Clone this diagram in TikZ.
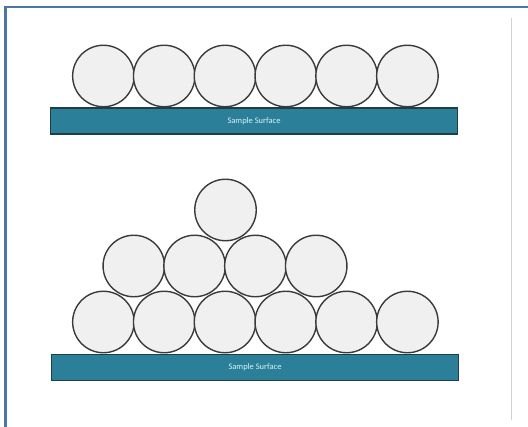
\documentclass[tikz,border=0pt]{standalone}
\usepackage{fontspec}
\setmainfont{Carlito}
\definecolor{frameblue}{HTML}{4A76A8}
\definecolor{teal}{HTML}{2B7F98}
\definecolor{tealdark}{HTML}{1E3E48}
\definecolor{ballfill}{HTML}{F0F0F0}
\definecolor{ballline}{HTML}{3A3A3A}
\definecolor{labelc}{HTML}{D8F4F8}
\tikzset{
  ball/.style={circle, draw=ballline, fill=ballfill, line width=1.4pt, minimum size=61.5pt, inner sep=0pt},
  surface/.style={draw=tealdark, fill=teal, line width=1.2pt, minimum width=407pt, minimum height=26pt, inner sep=0pt, font=\fontsize{8.5}{10}\selectfont, text=labelc},
}
\begin{document}
\begin{tikzpicture}[x=1pt,y=-1pt]
\useasboundingbox (0,0) rectangle (528,427);
\fill[white] (0,0) rectangle (528,427);
% frame
\draw[frameblue, line width=2.5pt] (5.5,427) -- (5.5,7) -- (528,7);
\draw[black!18, line width=0.8pt] (511,18) -- (511,420);
% top panel
\node[surface] (s1) at (254,121) {Sample Surface};
\foreach \i in {0,...,5} {
  \node[ball] (t\i) at ({103.4+60.8*\i},76) {};
}
% bottom panel
\node[surface] (s2) at (255,367.5) {Sample Surface};
\foreach \i in {0,...,5} {
  \node[ball] (b\i) at ({103.4+60.8*\i},322) {};
}
\foreach \i in {0,...,3} {
  \node[ball] (m\i) at ({133.8+60.8*\i},266) {};
}
\node[ball] (p0) at (225.5,210) {};
\end{tikzpicture}
\end{document}
